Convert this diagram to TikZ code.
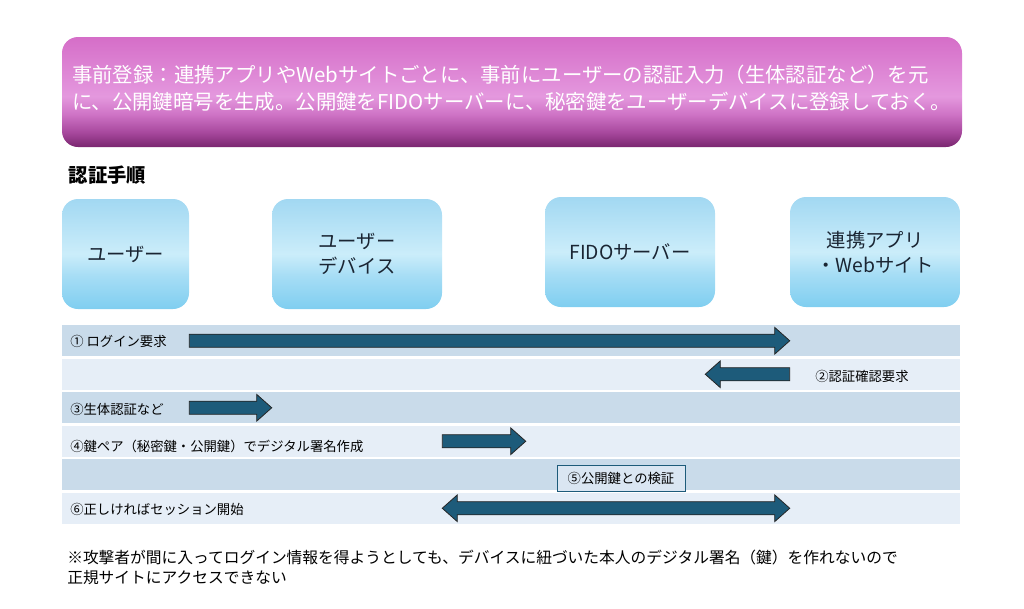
\documentclass[tikz,border=0pt]{standalone}
\usepackage{fontspec}
\setmainfont{Noto Sans CJK JP}
\usetikzlibrary{calc}

\definecolor{bandA}{HTML}{C9DBEA}
\definecolor{bandB}{HTML}{E6EEF7}
\definecolor{arrowfill}{HTML}{1D5B7A}
\definecolor{boxtext}{HTML}{1A2533}
\definecolor{pk0}{HTML}{7A2670}
\definecolor{pk1}{HTML}{A94A9F}
\definecolor{pk2}{HTML}{CF74C6}
\definecolor{pk3}{HTML}{E498DE}
\definecolor{pk4}{HTML}{D56EC8}
\definecolor{bl0}{HTML}{7FCEF0}
\definecolor{bl1}{HTML}{A6DDF5}
\definecolor{bl2}{HTML}{CBEDFA}
\definecolor{bl3}{HTML}{A2D8F2}

\pgfdeclareverticalshading{bannershade}{100bp}{color(0bp)=(pk0); color(25bp)=(pk0);
  color(32bp)=(pk1); color(40bp)=(pk2); color(48bp)=(pk3); color(75bp)=(pk4); color(100bp)=(pk4)}
\pgfdeclareverticalshading{actorshade}{100bp}{color(0bp)=(bl0); color(25bp)=(bl0);
  color(40bp)=(bl1); color(50bp)=(bl2); color(75bp)=(bl3); color(100bp)=(bl3)}

\tikzset{
  banner/.style={rounded corners=12pt, shading=bannershade, minimum width=675pt,
    minimum height=82.5pt, inner sep=0pt},
  bannertext/.style={text=white, font=\fontsize{15.3}{20}\selectfont, align=left, inner sep=0pt},
  actor/.style={rounded corners=12pt, shading=actorshade, minimum height=82.5pt,
    text=boxtext, font=\fontsize{14.5}{19}\selectfont, align=center},
  band/.style={fill=#1, minimum width=673.5pt, minimum height=23.6pt, inner sep=0pt},
  steplabel/.style={anchor=west, font=\fontsize{10}{12}\selectfont, inner sep=0pt},
  verifybox/.style={draw=arrowfill, fill=bandB!60!bandA, line width=0.6pt, minimum width=96pt,
    minimum height=19.5pt, font=\fontsize{10}{12}\selectfont, inner sep=0pt},
  fatarrow/.style={fill=arrowfill, draw=black!85, line width=0.6pt}
}

% block arrow, horizontal, tip at #2
\newcommand\fatarrow[2]{%
  \draw[fatarrow] let \p1=(#1), \p2=(#2), \n1={(\x2-\x1)/abs(\x2-\x1)} in
    (\x1,{\y1+4.9pt}) -- ({\x2-\n1*11.25pt},{\y1+4.9pt}) -- ({\x2-\n1*11.25pt},{\y1+10pt})
    -- (\x2,\y1) -- ({\x2-\n1*11.25pt},{\y1-10pt}) -- ({\x2-\n1*11.25pt},{\y1-4.9pt})
    -- (\x1,{\y1-4.9pt}) -- cycle;}
% block arrow with two heads, #1 left of #2
\newcommand\fatdblarrow[2]{%
  \draw[fatarrow] let \p1=(#1), \p2=(#2) in
    (\x1,\y1) -- ({\x1+11.25pt},{\y1+10pt}) -- ({\x1+11.25pt},{\y1+4.9pt})
    -- ({\x2-11.25pt},{\y1+4.9pt}) -- ({\x2-11.25pt},{\y1+10pt}) -- (\x2,\y1)
    -- ({\x2-11.25pt},{\y1-10pt}) -- ({\x2-11.25pt},{\y1-4.9pt})
    -- ({\x1+11.25pt},{\y1-4.9pt}) -- ({\x1+11.25pt},{\y1-10pt}) -- cycle;}

\begin{document}
\begin{tikzpicture}[x=0.75pt, y=-0.75pt]
  \useasboundingbox (0,0) rectangle (1024,608);

  % pre-registration
  \node[banner] (reg) at (512,92) {};
  \node[bannertext, anchor=west] (regtext) at ($(reg.west)+(10,-4)$)
    {事前登録：連携アプリやWebサイトごとに、事前にユーザーの認証入力（生体認証など）を元\\
     に、公開鍵暗号を生成。公開鍵をFIDOサーバーに、秘密鍵をユーザーデバイスに登録しておく。};

  \node[anchor=west, font=\bfseries\fontsize{14.5}{16}\selectfont] (proc) at (64,175) {認証手順};

  % parties
  \node[actor, minimum width=95.25pt] (user) at (125.5,254) {ユーザー};
  \node[actor, minimum width=127.5pt] (device) at (357,254) {ユーザー\\デバイス};
  \node[actor, minimum width=127.5pt] (fido) at (630,252) {FIDOサーバー};
  \node[actor, minimum width=127.5pt] (web) at (875,252) {連携アプリ\\・Webサイト};

  % steps
  \foreach \i/\c in {1/bandA,2/bandB,3/bandA,4/bandB,5/bandA,6/bandB}
    \node[band=\c] (row\i) at (511,{340.75+33.5*(\i-1)}) {};

  \node[steplabel] (s1) at (70,341) {① ログイン要求};
  \node[steplabel] (s2) at (815,376) {②認証確認要求};
  \node[steplabel] (s3) at (70,409) {③生体認証など};
  \node[steplabel] (s4) at (70,446) {④鍵ペア（秘密鍵・公開鍵）でデジタル署名作成};
  \node[verifybox] (s5) at (621,478) {⑤公開鍵との検証};
  \node[steplabel] (s6) at (70,509) {⑥正しければセッション開始};

  \fatarrow{user.east |- row1}{web.west |- row1}
  \fatarrow{web.west |- row2}{$(fido.east |- row2)+(-10,0)$}
  \fatarrow{user.east |- row3}{device.west |- row3}
  \fatarrow{device.east |- row4}{$(fido.west |- row4)+(-19,0)$}
  \fatdblarrow{device.east |- row6}{web.west |- row6}

  \node[anchor=north west, align=left, inner sep=0pt, font=\fontsize{11.8}{15}\selectfont] (note) at (67,550)
    {※攻撃者が間に入ってログイン情報を得ようとしても、デバイスに紐づいた本人のデジタル署名（鍵）を作れないので\\
     正規サイトにアクセスできない};
\end{tikzpicture}
\end{document}
